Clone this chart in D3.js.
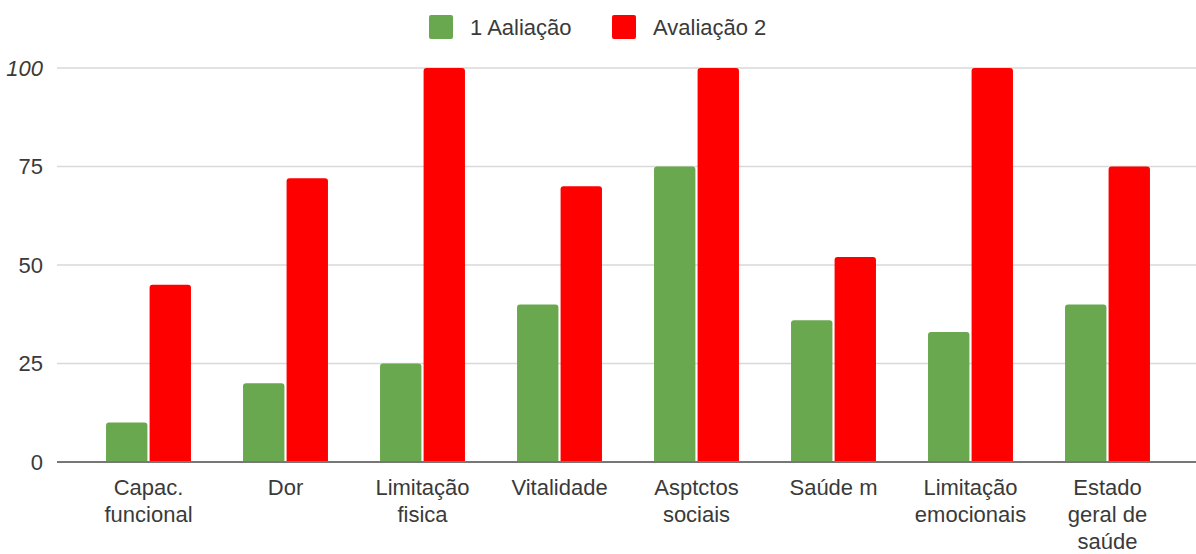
<!DOCTYPE html>
<html>
<head>
<meta charset="utf-8">
<script src="https://cdn.jsdelivr.net/npm/d3@7"></script>
<style>
  body { margin: 0; background: #fff; }
  text { font-family: "Liberation Sans", Arial, sans-serif; }
</style>
</head>
<body>
<div id="chart"></div>
<script>
var categories = ["Capac.\nfuncional", "Dor", "Limitação\nfisica", "Vitalidade",
                  "Asptctos\nsociais", "Saúde m", "Limitação\nemocionais", "Estado\ngeral de\nsaúde"];
var seriesNames = ["1 Aaliação", "Avaliação 2"];
var aval1 = [10, 20, 25, 40, 75, 36, 33, 40];
var aval2 = [45, 72, 100, 70, 100, 52, 100, 75];
var yTicks = [0, 25, 50, 75, 100];
var colors = ["#6aa84f", "#ff0000"];

var W = 1196, H = 554;
var svg = d3.select("#chart").append("svg")
    .attr("width", W)
    .attr("height", H);

/* plot geometry */
var gridLeft = 57, gridRight = W;
var y = d3.scaleLinear().domain([0, 100]).range([462, 68]);
var x = d3.scaleBand().domain(d3.range(categories.length))
    .range([80, 1176]).paddingInner(0.38).paddingOuter(0.19);
var xs = d3.scaleBand().domain([0, 1]).range([0, x.bandwidth()]).paddingInner(0.05);

/* gridlines */
svg.append("g").selectAll("line")
    .data(yTicks.filter(function(d) { return d > 0; }))
  .enter().append("line")
    .attr("x1", gridLeft).attr("x2", gridRight)
    .attr("y1", function(d) { return y(d); })
    .attr("y2", function(d) { return y(d); })
    .attr("stroke", "#d9d9d9")
    .attr("stroke-width", 1.5);

/* y tick labels */
svg.append("g").selectAll("text")
    .data(yTicks)
  .enter().append("text")
    .attr("x", 43)
    .attr("y", function(d) { return y(d); })
    .attr("dy", "0.35em")
    .attr("text-anchor", "end")
    .attr("font-size", 22)
    .attr("fill", "#3a3a3a")
    .attr("font-style", function(d) { return d === 100 ? "italic" : null; })
    .text(function(d) { return d; });

/* bars, top corners slightly rounded */
function roundedTop(x0, y0, w, h, r) {
  r = Math.min(r, h, w / 2);
  return "M" + x0 + "," + (y0 + h) +
    "V" + (y0 + r) +
    "Q" + x0 + "," + y0 + " " + (x0 + r) + "," + y0 +
    "H" + (x0 + w - r) +
    "Q" + (x0 + w) + "," + y0 + " " + (x0 + w) + "," + (y0 + r) +
    "V" + (y0 + h) + "Z";
}

var data = categories.map(function(c, i) { return [aval1[i], aval2[i]]; });

var groups = svg.append("g").selectAll("g")
    .data(data)
  .enter().append("g")
    .attr("transform", function(d, i) { return "translate(" + x(i) + ",0)"; });

groups.selectAll("path")
    .data(function(d) { return d; })
  .enter().append("path")
    .attr("fill", function(d, j) { return colors[j]; })
    .attr("d", function(d, j) {
      return roundedTop(xs(j), y(d), xs.bandwidth(), y(0) - y(d), 3);
    });

/* baseline */
svg.append("line")
    .attr("x1", gridLeft).attr("x2", gridRight)
    .attr("y1", y(0)).attr("y2", y(0))
    .attr("stroke", "#777")
    .attr("stroke-width", 2);

/* category labels */
var labels = svg.append("g").selectAll("text")
    .data(categories)
  .enter().append("text")
    .attr("text-anchor", "middle")
    .attr("font-size", 22)
    .attr("fill", "#3a3a3a")
    .attr("transform", function(d, i) {
      return "translate(" + (x(i) + x.bandwidth() / 2) + ",495)";
    });

labels.selectAll("tspan")
    .data(function(d) { return d.split("\n"); })
  .enter().append("tspan")
    .attr("x", 0)
    .attr("y", function(d, k) { return k * 27; })
    .text(function(d) { return d; });

/* legend */
var legendX = [429, 612];
var legend = svg.append("g").selectAll("g")
    .data(seriesNames)
  .enter().append("g")
    .attr("transform", function(d, i) { return "translate(" + legendX[i] + ",15)"; });

legend.append("rect")
    .attr("width", 24).attr("height", 24)
    .attr("rx", 2)
    .attr("fill", function(d, i) { return colors[i]; });

legend.append("text")
    .attr("x", 41)
    .attr("y", 12)
    .attr("dy", "0.35em")
    .attr("font-size", 22)
    .attr("fill", "#3a3a3a")
    .text(function(d) { return d; });
</script>
</body>
</html>
